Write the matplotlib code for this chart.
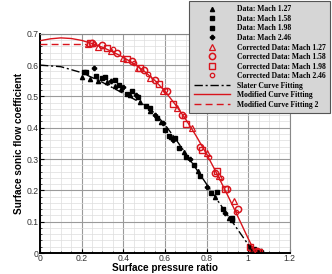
import matplotlib

matplotlib.use("Agg")
import matplotlib.pyplot as plt
from matplotlib.ticker import MultipleLocator

# ----- curve fits -----
slater_x = [0.0, 0.1, 0.2, 0.3, 0.4, 0.5, 0.55, 0.6, 0.65, 0.7, 0.8, 0.9, 1.0, 1.025]
slater_y = [0.600, 0.595, 0.576, 0.545, 0.510, 0.474, 0.447, 0.410, 0.365, 0.318, 0.220, 0.122, 0.027, 0.0]

mod_x = [0.0, 0.05, 0.1, 0.15, 0.2, 0.25, 0.3, 0.35, 0.4, 0.45, 0.5, 0.55, 0.6, 0.65,
         0.7, 0.75, 0.8, 0.85, 0.9, 0.95, 1.0, 1.035]
mod_y = [0.678, 0.684, 0.687, 0.685, 0.679, 0.669, 0.657, 0.642, 0.625, 0.605, 0.581, 0.552,
         0.517, 0.474, 0.427, 0.374, 0.316, 0.253, 0.186, 0.117, 0.046, 0.0]

mod2_x = [0.0, 0.22]
mod2_y = [0.669, 0.669]

# ----- raw data (black) -----
m127_x = [0.20, 0.24, 0.28, 0.32, 0.36, 0.39, 0.43, 0.48, 0.53, 0.58, 0.63, 0.69, 0.76, 0.84, 0.91, 1.02]
m127_y = [0.562, 0.556, 0.550, 0.546, 0.533, 0.525, 0.505, 0.482, 0.452, 0.418, 0.372, 0.322, 0.262, 0.178, 0.112, 0.010]
m158_x = [0.21, 0.27, 0.31, 0.36, 0.42, 0.47, 0.53, 0.60, 0.65, 0.70, 0.74, 0.82, 0.88, 0.92, 1.03]
m158_y = [0.578, 0.565, 0.562, 0.551, 0.509, 0.497, 0.464, 0.393, 0.366, 0.308, 0.282, 0.192, 0.139, 0.113, 0.012]
m198_x = [0.22, 0.30, 0.38, 0.44, 0.51, 0.56, 0.62, 0.67, 0.77, 0.85, 0.92, 1.04]
m198_y = [0.577, 0.560, 0.535, 0.518, 0.470, 0.430, 0.374, 0.335, 0.245, 0.194, 0.104, 0.008]
m246_x = [0.26, 0.34, 0.40, 0.46, 0.55, 0.59, 0.64, 0.72, 0.80, 0.89, 1.01, 1.06]
m246_y = [0.590, 0.548, 0.530, 0.505, 0.440, 0.415, 0.362, 0.300, 0.212, 0.128, 0.018, 0.006]

# ----- corrected data (red) -----
c127_x = [0.23, 0.28, 0.34, 0.40, 0.47, 0.53, 0.59, 0.66, 0.73, 0.80, 0.86, 0.93, 1.02]
c127_y = [0.666, 0.659, 0.645, 0.624, 0.592, 0.560, 0.518, 0.464, 0.400, 0.318, 0.246, 0.165, 0.012]
c158_x = [0.25, 0.30, 0.37, 0.44, 0.50, 0.55, 0.61, 0.68, 0.77, 0.84, 0.90, 0.95, 1.04]
c158_y = [0.672, 0.664, 0.640, 0.612, 0.586, 0.552, 0.518, 0.440, 0.337, 0.257, 0.204, 0.140, 0.005]
c198_x = [0.24, 0.32, 0.42, 0.48, 0.57, 0.64, 0.70, 0.78, 0.85, 0.89, 1.01, 1.05]
c198_y = [0.670, 0.655, 0.618, 0.590, 0.540, 0.475, 0.412, 0.330, 0.262, 0.206, 0.020, 0.004]
c246_x = [0.26, 0.35, 0.45, 0.52, 0.60, 0.69, 0.81, 0.87, 0.94, 1.03]
c246_y = [0.668, 0.650, 0.606, 0.572, 0.522, 0.437, 0.307, 0.240, 0.130, 0.008]

plt.rcParams["font.family"] = ["Liberation Sans", "DejaVu Sans"]

fig = plt.figure(figsize=(3.32, 2.74), dpi=100)
ax = fig.add_axes([0.1205, 0.0766, 0.7525, 0.800])

red = "#d8141c"
ax.plot(slater_x, slater_y, color="black", lw=1.0, ls=(0, (6, 2, 1.5, 2)), zorder=3,
        label="Slater Curve Fitting")
ax.plot(mod_x, mod_y, color=red, lw=1.0, zorder=3, label="Modified Curve Fitting")
ax.plot(mod2_x, mod2_y, color=red, lw=1.0, ls=(0, (5, 3)), zorder=3,
        label="Modified Curve Fitting 2")

ax.plot(m127_x, m127_y, ls="none", marker="^", ms=3.0, color="black", label="Data: Mach 1.27")
ax.plot(m158_x, m158_y, ls="none", marker="s", ms=3.2, color="black", label="Data: Mach 1.58")
ax.plot(m198_x, m198_y, ls="none", marker="s", ms=2.4, color="black", label="Data: Mach 1.98")
ax.plot(m246_x, m246_y, ls="none", marker="P", ms=3.0, color="black", label="Data: Mach 2.46")

ax.plot(c127_x, c127_y, ls="none", marker="^", ms=4.0, mfc="none", mec=red, mew=0.9,
        label="Corrected Data: Mach 1.27")
ax.plot(c158_x, c158_y, ls="none", marker="o", ms=4.5, mfc="none", mec=red, mew=1.1,
        label="Corrected Data: Mach 1.58")
ax.plot(c198_x, c198_y, ls="none", marker="s", ms=3.8, mfc="none", mec=red, mew=1.0,
        label="Corrected Data: Mach 1.98")
ax.plot(c246_x, c246_y, ls="none", marker="o", ms=3.2, mfc="none", mec=red, mew=0.9,
        label="Corrected Data: Mach 2.46")

ax.set_xlim(0, 1.2)
ax.set_ylim(0, 0.7)
ax.xaxis.set_minor_locator(MultipleLocator(0.05))
ax.yaxis.set_minor_locator(MultipleLocator(0.02))
ax.set_xticks([0, 0.2, 0.4, 0.6, 0.8, 1.0, 1.2])
ax.set_xticklabels(["0", "0.2", "0.4", "0.6", "0.8", "1", "1.2"])
ax.set_yticks([0, 0.1, 0.2, 0.3, 0.4, 0.5, 0.6, 0.7])
ax.set_yticklabels(["0", "0.1", "0.2", "0.3", "0.4", "0.5", "0.6", "0.7"])
ax.grid(True, which="major", color="#9a9a9a", lw=0.8)
ax.grid(True, which="minor", color="#dddddd", lw=0.5)
ax.set_axisbelow(True)
ax.tick_params(which="both", direction="in", labelsize=6.2, colors="black",
               labelcolor="#333333", pad=1)
ax.tick_params(which="major", length=3, width=0.8)
ax.tick_params(which="minor", length=1.5, width=0.5)
for side in ("left", "bottom"):
    ax.spines[side].set_linewidth(1.4)
for side in ("top", "right"):
    ax.spines[side].set_color("#888888")
    ax.spines[side].set_linewidth(0.8)

ax.set_xlabel("Surface pressure ratio", fontsize=7.2, fontweight="bold", labelpad=0)
ax.set_ylabel("Surface sonic flow coefficient", fontsize=7.2, fontweight="bold", labelpad=2)

handles, labels = ax.get_legend_handles_labels()
order = [3, 4, 5, 6, 7, 8, 9, 10, 0, 1, 2]
leg = fig.legend([handles[i] for i in order], [labels[i] for i in order],
                 loc="upper right", bbox_to_anchor=(0.994, 0.997),
                 prop={"family": "Liberation Serif", "weight": "bold", "size": 5.5},
                 frameon=True, fancybox=False, handlelength=4.8, handletextpad=0.8,
                 labelspacing=0.2, borderpad=0.6, borderaxespad=0.0)
leg.get_frame().set_facecolor("#d6d6d6")
leg.get_frame().set_edgecolor("#555555")
leg.get_frame().set_linewidth(0.8)
leg.get_frame().set_alpha(1.0)

fig.savefig("out.png", dpi=100)
